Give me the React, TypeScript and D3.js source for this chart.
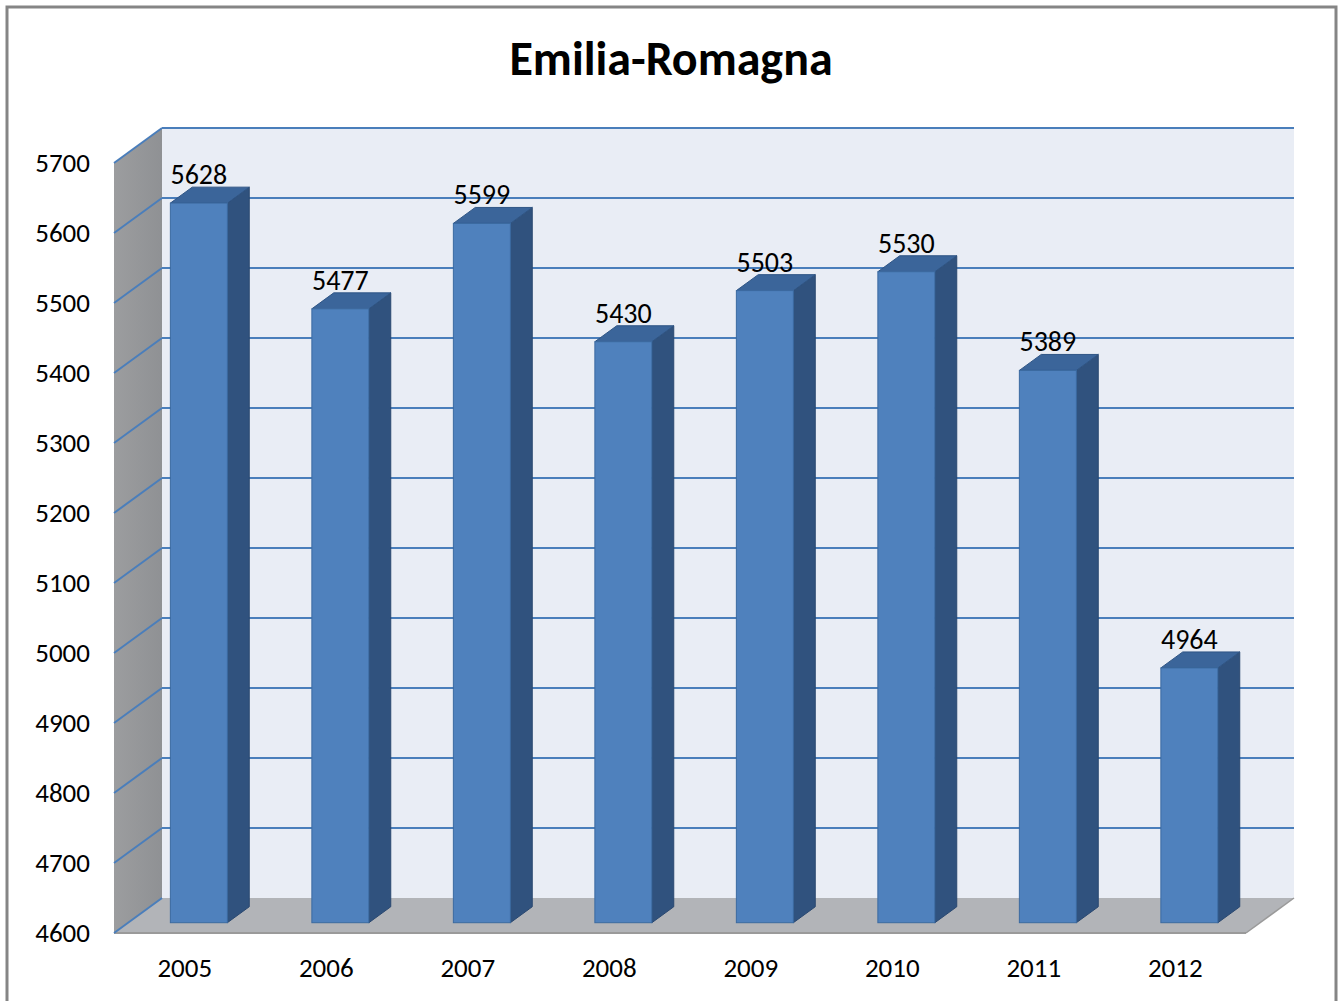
import React from "react";
import * as d3 from "d3";

const years = ["2005", "2006", "2007", "2008", "2009", "2010", "2011", "2012"];
const values = [5628, 5477, 5599, 5430, 5503, 5530, 5389, 4964];
const yTicks = [4600, 4700, 4800, 4900, 5000, 5100, 5200, 5300, 5400, 5500, 5600, 5700];
const title = "Emilia-Romagna";

const W = 1343;
const H = 1001;
const FRONT_LEFT = 114;
const FRONT_RIGHT = 1246;
const FRONT_TOP = 163;
const FRONT_BOTTOM = 933;
const DEPTH_X = 48;
const DEPTH_Y = -35;
const BAR_D1 = 0.294;
const BAR_D2 = 0.75;
const BAR_W = 57;
const FONT = "Carlito, Calibri, 'Open Sans', 'Noto Sans', sans-serif";

export default function App() {
  const y = d3.scaleLinear().domain([4600, 5700]).range([FRONT_BOTTOM, FRONT_TOP]);
  const x = d3.scaleBand<string>().domain(years).range([FRONT_LEFT, FRONT_RIGHT]);
  const depthX = d3.scaleLinear().domain([0, 1]).range([0, DEPTH_X]);
  const depthY = d3.scaleLinear().domain([0, 1]).range([0, DEPTH_Y]);

  const backLeft = FRONT_LEFT + DEPTH_X;
  const backRight = FRONT_RIGHT + DEPTH_X;
  const pt = (px: number, py: number) => `${px},${py}`;

  const gridColor = "#4A7EBB";

  return (
    <svg width={W} height={H} style={{ display: "block", position: "absolute", left: 0, top: 0 }}>
      <defs>
        <linearGradient id="wallGrad" x1="0" y1="0" x2="1" y2="0">
          <stop offset="0" stopColor="#9c9d9f" />
          <stop offset="1" stopColor="#8f9194" />
        </linearGradient>
      </defs>
      <rect x={0} y={0} width={W} height={H} fill="#ffffff" />
      <rect x={7} y={7} width={1329} height={1000} fill="#ffffff" stroke="#858585" strokeWidth={3} />
      <text x={671} y={75} textAnchor="middle" fontFamily={FONT} fontWeight="bold" fontSize={48} fill="#000">
        {title}
      </text>

      {/* back wall */}
      <rect x={backLeft} y={y(5700) + DEPTH_Y} width={backRight - backLeft} height={y(4600) - y(5700)} fill="#E9EDF5" />
      {/* left wall */}
      <polygon
        points={[
          pt(FRONT_LEFT, y(5700)),
          pt(backLeft, y(5700) + DEPTH_Y),
          pt(backLeft, y(4600) + DEPTH_Y),
          pt(FRONT_LEFT, y(4600)),
        ].join(" ")}
        fill="url(#wallGrad)"
      />
      {/* floor */}
      <polygon
        points={[
          pt(FRONT_LEFT, y(4600)),
          pt(backLeft, y(4600) + DEPTH_Y),
          pt(backRight, y(4600) + DEPTH_Y),
          pt(FRONT_RIGHT, y(4600)),
        ].join(" ")}
        fill="#B2B4B8"
      />
      <line x1={FRONT_LEFT} y1={y(4600)} x2={FRONT_RIGHT} y2={y(4600)} stroke="#9a9a9a" strokeWidth={2} />
      <line x1={FRONT_RIGHT} y1={y(4600)} x2={backRight} y2={y(4600) + DEPTH_Y} stroke="#9a9a9a" strokeWidth={1.5} />

      {/* gridlines */}
      {yTicks.map((t) => (
        <g key={t}>
          {t > 4600 && (
            <line x1={backLeft} y1={y(t) + DEPTH_Y} x2={backRight} y2={y(t) + DEPTH_Y} stroke={gridColor} strokeWidth={2} />
          )}
          <line x1={FRONT_LEFT} y1={y(t)} x2={backLeft} y2={y(t) + DEPTH_Y} stroke={gridColor} strokeWidth={2} />
        </g>
      ))}

      {/* y labels */}
      {yTicks.map((t) => (
        <text key={t} x={90} y={y(t) + 9} textAnchor="end" fontFamily={FONT} fontSize={27} fill="#000">
          {t}
        </text>
      ))}

      {/* bars */}
      {years.map((yr, i) => {
        const v = values[i];
        const cx = (x(yr) as number) + x.bandwidth() / 2 + depthX(BAR_D1);
        const x0 = cx - BAR_W / 2;
        const x1 = cx + BAR_W / 2;
        const yb = y(4600) + depthY(BAR_D1);
        const yt = y(v) + depthY(BAR_D1);
        const ddx = depthX(BAR_D2) - depthX(BAR_D1);
        const ddy = depthY(BAR_D2) - depthY(BAR_D1);
        return (
          <g key={yr}>
            <polygon
              points={[pt(x1, yt), pt(x1 + ddx, yt + ddy), pt(x1 + ddx, yb + ddy), pt(x1, yb)].join(" ")}
              fill="#30527E"
              stroke="#2a4870"
              strokeWidth={1}
            />
            <polygon
              points={[pt(x0, yt), pt(x0 + ddx, yt + ddy), pt(x1 + ddx, yt + ddy), pt(x1, yt)].join(" ")}
              fill="#3B659A"
              stroke="#2f5585"
              strokeWidth={1}
            />
            <rect x={x0} y={yt} width={BAR_W} height={yb - yt} fill="#4F81BD" stroke="#3b6aa0" strokeWidth={1} />
            <text x={cx} y={yt + ddy - 3} textAnchor="middle" fontFamily={FONT} fontSize={28} fill="#000">
              {v}
            </text>
          </g>
        );
      })}

      {/* x labels */}
      {years.map((yr) => (
        <text
          key={yr}
          x={(x(yr) as number) + x.bandwidth() / 2}
          y={977}
          textAnchor="middle"
          fontFamily={FONT}
          fontSize={27}
          fill="#000"
        >
          {yr}
        </text>
      ))}
    </svg>
  );
}
